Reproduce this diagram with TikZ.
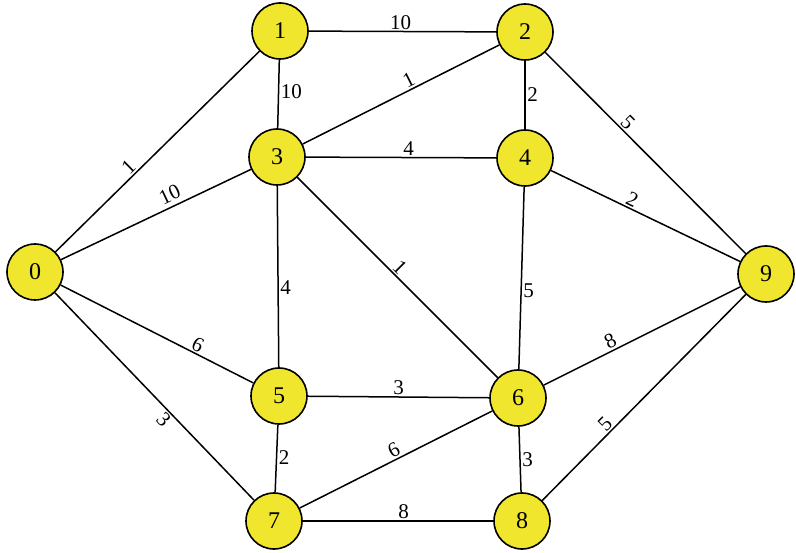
\documentclass[tikz,border=0pt]{standalone}
\usepackage{fontspec}
\setmainfont{Liberation Serif}
\usepackage{xcolor}
\usetikzlibrary{positioning}
\definecolor{vertexyellow}{RGB}{240,230,45}
\tikzset{
  vertex/.style={
    circle,
    draw=black,
    fill=vertexyellow,
    line width=1.6pt,
    minimum size=56pt,
    inner sep=0pt,
    font=\fontsize{24}{24}\selectfont,
  },
  edge/.style={
    line width=1.5pt,
    draw=black,
  },
  wlbl/.style={
    font=\fontsize{21}{21}\selectfont,
    inner sep=1.5pt,
  },
}

\begin{document}
\begin{tikzpicture}[x=1pt, y=-1pt]
  \useasboundingbox (0,0) rectangle (796,553);

  % --- vertices ---
  \node[vertex] (n0) at (35,272)  {0};
  \node[vertex] (n1) at (280,31)  {1};
  \node[vertex] (n2) at (525,32)  {2};
  \node[vertex] (n3) at (277,157) {3};
  \node[vertex] (n4) at (525,158) {4};
  \node[vertex] (n5) at (279,396) {5};
  \node[vertex] (n6) at (518,398) {6};
  \node[vertex] (n7) at (274,521) {7};
  \node[vertex] (n8) at (522,521) {8};
  \node[vertex] (n9) at (766,274) {9};

  % --- edges from 0 ---
  \draw[edge] (n0) -- node[wlbl, above, sloped, pos=0.39] (w01) {1} (n1);
  \draw[edge] (n0) -- node[wlbl, above=3pt, sloped, pos=0.60] (w03) {10} (n3);
  \draw[edge] (n0) -- node[wlbl, above, sloped, pos=0.69] (w05) {6} (n5);
  \draw[edge] (n0) -- node[wlbl, below, sloped, pos=0.58] (w07) {3} (n7);

  % --- upper part ---
  \draw[edge] (n1) -- node[wlbl, above, pos=0.49] (w12) {10} (n2);
  \draw[edge] (n1) -- node[wlbl, right, pos=0.46] (w13) {10} (n3);
  \draw[edge] (n3) -- node[wlbl, above, sloped, pos=0.56] (w32) {1} (n2);
  \draw[edge] (n2) -- node[wlbl, right, pos=0.5] (w24) {2} (n4);
  \draw[edge] (n2) -- node[wlbl, above, sloped, pos=0.38] (w29) {5} (n9);
  \draw[edge] (n3) -- node[wlbl, above, pos=0.54] (w34) {4} (n4);
  \draw[edge] (n4) -- node[wlbl, above, sloped, pos=0.41] (w49) {2} (n9);

  % --- middle ---
  \draw[edge] (n3) -- node[wlbl, right, pos=0.56] (w35) {4} (n5);
  \draw[edge] (n3) -- node[wlbl, above, sloped, pos=0.48] (w36) {1} (n6);
  \draw[edge] (n4) -- node[wlbl, right, pos=0.57] (w46) {5} (n6);
  \draw[edge] (n6) -- node[wlbl, above, sloped, pos=0.36] (w69) {8} (n9);
  \draw[edge] (n5) -- node[wlbl, above, pos=0.5] (w56) {3} (n6);

  % --- lower part ---
  \draw[edge] (n5) -- node[wlbl, right, pos=0.49] (w57) {2} (n7);
  \draw[edge] (n7) -- node[wlbl, above, sloped, pos=0.51] (w76) {6} (n6);
  \draw[edge] (n6) -- node[wlbl, right, pos=0.5] (w68) {3} (n8);
  \draw[edge] (n8) -- node[wlbl, above, sloped, pos=0.34] (w89) {5} (n9);
  \draw[edge] (n7) -- node[wlbl, above, pos=0.53] (w78) {8} (n8);
\end{tikzpicture}
\end{document}
